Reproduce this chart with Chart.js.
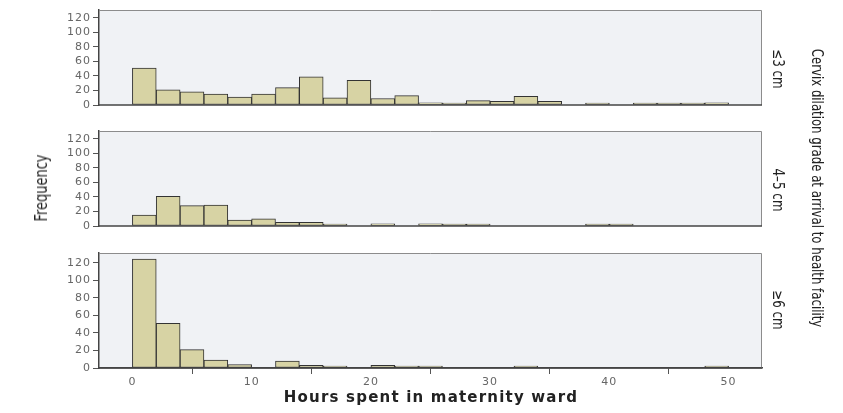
<!DOCTYPE html>
<html>
<head>
<meta charset="utf-8">
<script src="https://cdn.jsdelivr.net/npm/chart.js@4.4.0/dist/chart.umd.min.js"></script>
<style>
  body { margin: 0; background: #fff; }
  #wrap { position: relative; width: 843px; height: 413px; overflow: hidden; }
  canvas { position: absolute; left: 0; top: 0; }
  .lbl { position: absolute; white-space: nowrap; color: #222;
         font-family: "Liberation Sans Narrow", "DejaVu Sans Condensed", sans-serif; }
</style>
</head>
<body>
<div id="wrap">
  <canvas id="c1" width="843" height="413"></canvas>
  <canvas id="c2" width="843" height="413"></canvas>
  <canvas id="c3" width="843" height="413"></canvas>
  <div class="lbl" id="freq">Frequency</div>
  <div class="lbl strip" id="s1"></div>
  <div class="lbl strip" id="s2"></div>
  <div class="lbl strip" id="s3"></div>
  <div class="lbl" id="rtitle">Cervix dilation grade at arrival to health facility</div>
  <div class="lbl" id="xtitle">Hours spent in maternity ward</div>
</div>
<script>
// histogram bins (hours), width 2
const binStarts = [0,2,4,6,8,10,12,14,16,18,20,22,24,26,28,30,32,34,36,38,40,42,44,46,48];
const binWidth = 2;

const groups = ['≤3 cm', '4–5 cm', '≥6 cm'];
const countsLe3 = [51,21,18,15,11,15,24,39,10,34,9,13,3,2,6,5,12,5,0,1,0,1,1,1,3];
const counts4to5 = [15,41,28,29,8,10,5,5,2,0,3,0,3,1,2,0,0,0,0,1,1,0,0,0,0];
const countsGe6 = [124,51,21,9,4,0,8,3,1,0,3,2,2,0,0,0,1,0,0,0,0,0,0,0,1];

const xTicks = [0,10,20,30,40,50];
const yTicks = [0,20,40,60,80,100,120];

const barFill = '#d7d3a4';
const barLine = '#333';
const frameLeft = 99, frameRight = 762;
const xAxisH = 22;

const panelFrame = {
  id: 'panelFrame',
  beforeDraw(chart) {
    const {ctx, chartArea: a} = chart;
    ctx.letterSpacing = '1px';
    ctx.save();
    ctx.fillStyle = '#f0f2f5';
    ctx.fillRect(a.left, a.top, a.right - a.left, a.bottom - a.top);
    ctx.restore();
  },
  afterDraw(chart) {
    const {ctx, chartArea: a} = chart;
    ctx.save();
    ctx.strokeStyle = '#8c8c8c';
    ctx.lineWidth = 1;
    ctx.beginPath();
    ctx.moveTo(a.left, a.top + 0.5);
    ctx.lineTo(a.right - 0.5, a.top + 0.5);
    ctx.lineTo(a.right - 0.5, a.bottom);
    ctx.stroke();
    ctx.strokeStyle = '#444';
    ctx.lineWidth = 1.5;
    ctx.beginPath();
    ctx.moveTo(a.left, a.bottom);
    ctx.lineTo(a.right, a.bottom);
    ctx.stroke();
    ctx.restore();
  }
};

const tickFont = { family: 'DejaVu Sans', size: 11 };

function makePanel(id, counts, top, bottom, showX) {
  return new Chart(document.getElementById(id), {
    type: 'bar',
    data: {
      datasets: [{
        // empty bins are left out (null), the rest drawn with a small minimum height
        data: binStarts.map((b, i) => ({ x: b + binWidth / 2, y: counts[i] === 0 ? null : counts[i] })),
        backgroundColor: barFill,
        borderColor: barLine,
        borderWidth: 1,
        borderSkipped: false,
        minBarLength: 2,
        barPercentage: 1,
        categoryPercentage: 1
      }]
    },
    options: {
      responsive: false,
      animation: false,
      events: [],
      layout: { padding: { top: top, bottom: 413 - bottom - (showX ? xAxisH : 0), left: 0, right: 843 - frameRight } },
      plugins: { legend: { display: false }, tooltip: { enabled: false } },
      scales: {
        x: {
          type: 'linear', min: -2.8, max: 52.8, offset: false, display: showX,
          grid: { drawOnChartArea: false, tickLength: 6, color: '#555' },
          border: { color: '#444', width: 1.5 },
          ticks: { color: '#666', font: tickFont, padding: 2, maxRotation: 0, autoSkip: false },
          afterBuildTicks: ax => { ax.ticks = xTicks.map(v => ({ value: v })); },
          afterFit: ax => { ax.height = xAxisH; }
        },
        y: {
          min: 0, max: 131,
          grid: { drawOnChartArea: false, tickLength: 6, color: '#555' },
          border: { color: '#444', width: 1.5 },
          ticks: { color: '#666', font: tickFont, padding: 2, autoSkip: false },
          afterBuildTicks: ax => { ax.ticks = yTicks.map(v => ({ value: v })); },
          afterFit: ax => { ax.width = frameLeft; }
        }
      }
    },
    plugins: [panelFrame]
  });
}

makePanel('c1', countsLe3, 10, 127, false);
makePanel('c2', counts4to5, 131, 248, false);
makePanel('c3', countsGe6, 253, 368, true);

function place(el, cx, cy, rot, squeeze, css) {
  Object.assign(el.style, css);
  el.style.left = cx + 'px';
  el.style.top = cy + 'px';
  el.style.transform = 'translate(-50%, -50%) rotate(' + rot + 'deg) scaleX(' + squeeze + ')';
}
const stripY = [69, 190, 310];
groups.forEach((g, i) => {
  const el = document.getElementById('s' + (i + 1));
  el.textContent = g;
  place(el, 778, stripY[i], 90, 0.88, { fontSize: '15px' });
});
place(document.getElementById('freq'), 41, 188, -90, 0.85, { fontSize: '17px' });
place(document.getElementById('rtitle'), 817, 188, 90, 0.87, { fontSize: '15px' });
place(document.getElementById('xtitle'), 431, 397, 0, 1,
  { fontFamily: 'DejaVu Sans', fontWeight: 'bold', fontSize: '15px', color: '#222', letterSpacing: '1.2px' });
</script>
</body>
</html>
